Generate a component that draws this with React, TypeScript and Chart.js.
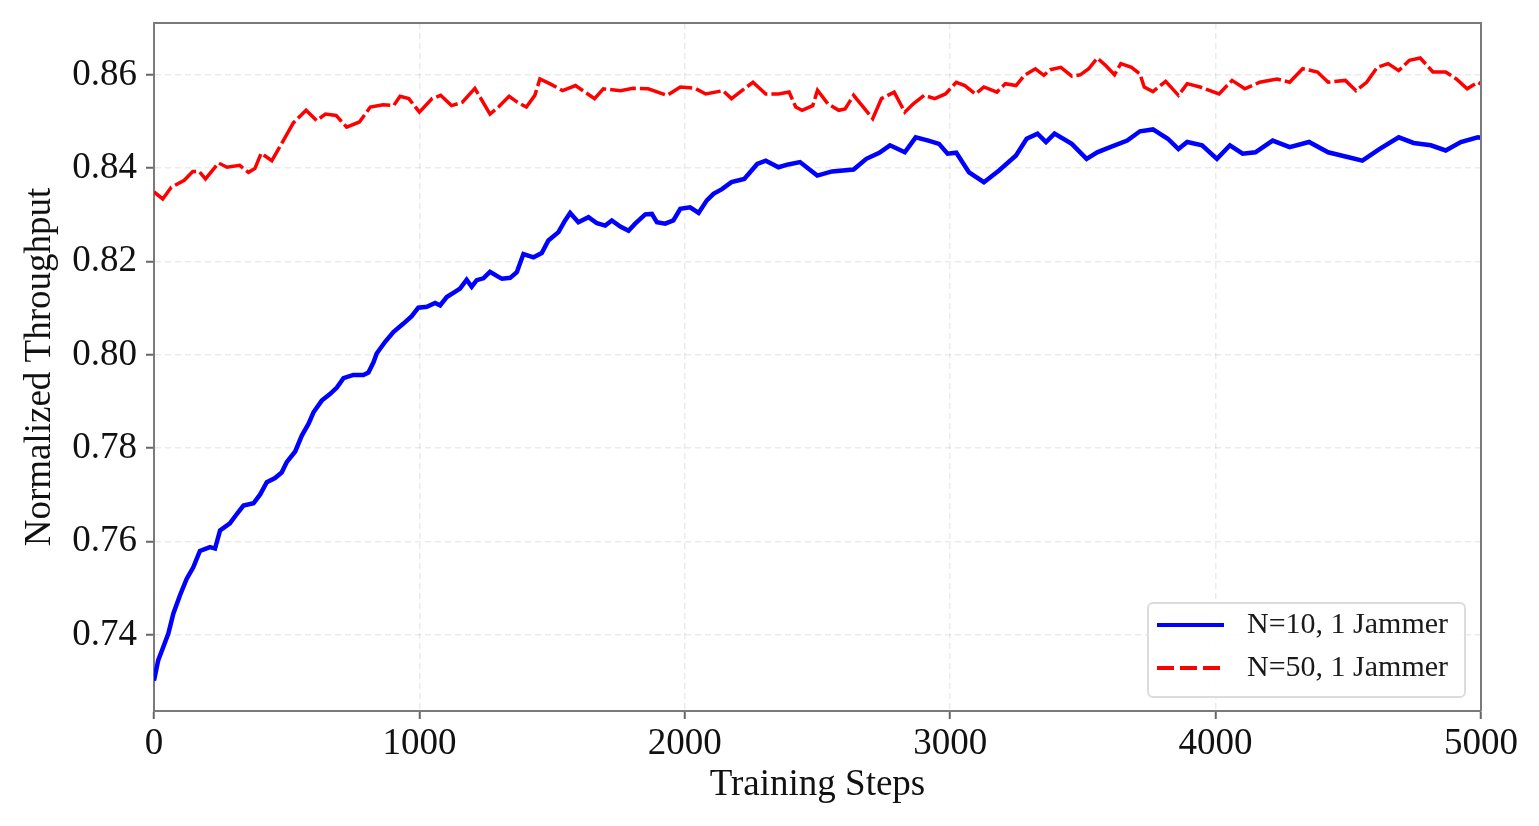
import React, { useEffect, useRef } from 'react';
import { Chart, registerables } from 'chart.js';

Chart.register(...registerables);

// values
const blueSteps = [
  0, 16, 35, 54, 73, 98, 123, 148, 173, 211, 230, 249, 286, 312, 337, 375, 400, 425, 456, 481,
  500, 532, 557, 582, 601, 632, 663, 689, 714, 751, 789, 808, 827, 839, 871, 902, 940, 971, 996, 1028,
  1059, 1078, 1103, 1134, 1153, 1178, 1197, 1216, 1241, 1266, 1298, 1311, 1342, 1367, 1392, 1430, 1461, 1486, 1524, 1549,
  1568, 1599, 1637, 1669, 1700, 1725, 1757, 1788, 1813, 1851, 1876, 1895, 1926, 1957, 1983, 2020, 2052, 2083, 2108, 2140,
  2176, 2224, 2273, 2305, 2353, 2390, 2434, 2499, 2555, 2636, 2684, 2733, 2773, 2829, 2870, 2918, 2958, 2990, 3023, 3071,
  3127, 3184, 3248, 3288, 3329, 3361, 3393, 3458, 3514, 3554, 3603, 3667, 3715, 3764, 3820, 3860, 3893, 3949, 4005, 4054,
  4102, 4150, 4215, 4279, 4352, 4424, 4497, 4553, 4617, 4690, 4746, 4811, 4867, 4924, 4988, 5000,
];
const blueValues = [
  0.7302, 0.7346, 0.7374, 0.7403, 0.7446, 0.7485, 0.7520, 0.7545, 0.7580, 0.7588, 0.7585, 0.7624, 0.7639, 0.7659, 0.7677, 0.7682, 0.7701, 0.7727, 0.7736, 0.7748,
  0.7770, 0.7793, 0.7827, 0.7852, 0.7877, 0.7902, 0.7916, 0.7930, 0.7950, 0.7957, 0.7957, 0.7962, 0.7984, 0.8003, 0.8028, 0.8049, 0.8067, 0.8083, 0.8101, 0.8103,
  0.8111, 0.8106, 0.8124, 0.8135, 0.8142, 0.8161, 0.8146, 0.8160, 0.8164, 0.8178, 0.8167, 0.8163, 0.8165, 0.8177, 0.8216, 0.8209, 0.8218, 0.8245, 0.8263, 0.8288,
  0.8304, 0.8284, 0.8295, 0.8282, 0.8277, 0.8288, 0.8275, 0.8266, 0.8281, 0.8301, 0.8302, 0.8284, 0.8281, 0.8288, 0.8313, 0.8316, 0.8304, 0.8331, 0.8345, 0.8355,
  0.8370, 0.8377, 0.8409, 0.8416, 0.8402, 0.8408, 0.8413, 0.8384, 0.8393, 0.8397, 0.8420, 0.8433, 0.8449, 0.8434, 0.8466, 0.8459, 0.8452, 0.8431, 0.8433, 0.8391,
  0.8370, 0.8395, 0.8427, 0.8463, 0.8474, 0.8456, 0.8474, 0.8452, 0.8420, 0.8434, 0.8445, 0.8459, 0.8479, 0.8483, 0.8463, 0.8441, 0.8456, 0.8449, 0.8420, 0.8449,
  0.8431, 0.8434, 0.8459, 0.8445, 0.8456, 0.8434, 0.8424, 0.8416, 0.8441, 0.8466, 0.8454, 0.8449, 0.8438, 0.8456, 0.8466, 0.8465,
];

const redSteps = [
  0, 33, 65, 114, 146, 170, 194, 243, 275, 323, 356, 380, 404, 444, 484, 525, 573, 613, 646, 686,
  726, 774, 815, 863, 903, 927, 960, 1000, 1048, 1080, 1121, 1161, 1209, 1266, 1298, 1338, 1370, 1403, 1435, 1454,
  1491, 1540, 1588, 1660, 1693, 1757, 1805, 1862, 1934, 1983, 2039, 2079, 2144, 2176, 2224, 2257, 2305, 2353, 2393, 2418,
  2442, 2482, 2500, 2539, 2580, 2604, 2636, 2668, 2708, 2741, 2789, 2829, 2861, 2902, 2942, 2982, 3023, 3055, 3095, 3127,
  3176, 3208, 3248, 3280, 3321, 3353, 3377, 3417, 3458, 3490, 3522, 3554, 3586, 3619, 3643, 3683, 3715, 3731, 3764, 3812,
  3860, 3893, 3941, 4013, 4062, 4110, 4166, 4231, 4279, 4328, 4384, 4424, 4489, 4529, 4569, 4609, 4650, 4690, 4730, 4771,
  4819, 4867, 4907, 4948, 4988, 5000,
];
const redValues = [
  0.8349, 0.8334, 0.8359, 0.8374, 0.8393, 0.8393, 0.8377, 0.8411, 0.8402, 0.8406, 0.8391, 0.8399, 0.8432, 0.8416, 0.8456, 0.8497, 0.8524, 0.8502, 0.8516, 0.8513,
  0.8488, 0.8499, 0.8531, 0.8536, 0.8534, 0.8554, 0.8549, 0.8520, 0.8549, 0.8556, 0.8534, 0.8541, 0.8571, 0.8516, 0.8531, 0.8554, 0.8541, 0.8531, 0.8556, 0.8591,
  0.8581, 0.8566, 0.8577, 0.8549, 0.8570, 0.8566, 0.8571, 0.8570, 0.8556, 0.8574, 0.8571, 0.8559, 0.8566, 0.8549, 0.8570, 0.8584, 0.8559, 0.8559, 0.8563, 0.8531,
  0.8524, 0.8534, 0.8567, 0.8538, 0.8524, 0.8527, 0.8556, 0.8534, 0.8506, 0.8549, 0.8563, 0.8520, 0.8538, 0.8556, 0.8549, 0.8559, 0.8584, 0.8577, 0.8559, 0.8574,
  0.8563, 0.8581, 0.8577, 0.8599, 0.8613, 0.8599, 0.8611, 0.8616, 0.8597, 0.8600, 0.8613, 0.8636, 0.8620, 0.8600, 0.8624, 0.8616, 0.8602, 0.8574, 0.8564, 0.8586,
  0.8556, 0.8581, 0.8574, 0.8559, 0.8588, 0.8570, 0.8584, 0.8591, 0.8584, 0.8613, 0.8606, 0.8584, 0.8588, 0.8566, 0.8584, 0.8616, 0.8624, 0.8609, 0.8631, 0.8636,
  0.8606, 0.8606, 0.8591, 0.8570, 0.8584, 0.8580,
];

const seriesLabels = ['N=10, 1 Jammer', 'N=50, 1 Jammer'];
const xTicks = [0, 1000, 2000, 3000, 4000, 5000];
const yTicks = [0.74, 0.76, 0.78, 0.8, 0.82, 0.84, 0.86];

const SERIF = '"Liberation Serif", "Times New Roman", serif';
const FRAME = '#7a7a7a';

const toPoints = (xs: number[], ys: number[]) => xs.map((x, i) => ({ x, y: ys[i] }));

// matplotlib style box: top and right spines
const framePlugin = {
  id: 'frame',
  afterDraw(chart: Chart) {
    const { ctx, chartArea: a } = chart;
    ctx.save();
    ctx.strokeStyle = FRAME;
    ctx.lineWidth = 2;
    ctx.beginPath();
    ctx.moveTo(a.left, a.top);
    ctx.lineTo(a.right, a.top);
    ctx.lineTo(a.right, a.bottom);
    ctx.stroke();
    ctx.restore();
  },
};

// legend in the lower right corner of the plot area
const innerLegend = {
  id: 'innerLegend',
  afterDraw(chart: Chart) {
    const { ctx, chartArea: a } = chart;
    const w = 317;
    const h = 94;
    const x = a.right - 16 - w;
    const y = a.bottom - 14 - h;
    ctx.save();
    ctx.beginPath();
    ctx.roundRect(x, y, w, h, 5);
    ctx.fillStyle = 'rgba(255,255,255,0.9)';
    ctx.fill();
    ctx.strokeStyle = '#dcdcdc';
    ctx.lineWidth = 2;
    ctx.stroke();
    chart.data.datasets.forEach((ds: any, i) => {
      const cy = y + 22 + i * 43;
      ctx.beginPath();
      ctx.strokeStyle = ds.borderColor;
      ctx.lineWidth = 4;
      ctx.setLineDash(ds.borderDash ? [17, 6] : []);
      ctx.moveTo(x + 9, cy);
      ctx.lineTo(x + 76, cy);
      ctx.stroke();
      ctx.setLineDash([]);
      ctx.fillStyle = '#1a1a1a';
      ctx.font = `30px ${SERIF}`;
      ctx.textBaseline = 'middle';
      ctx.textAlign = 'left';
      ctx.fillText(ds.label, x + 99, cy);
    });
    ctx.restore();
  },
};

const ThroughputChart: React.FC = () => {
  const canvasRef = useRef<HTMLCanvasElement>(null);

  useEffect(() => {
    if (!canvasRef.current) return;

    const gridCommon = {
      color: 'rgba(0,0,0,0.08)',
      lineWidth: 1.5,
      tickLength: 8,
      tickWidth: 2,
      tickColor: '#666',
      tickBorderDash: [],
    };
    const borderCommon = { color: FRAME, width: 2, dash: [6, 4] };

    const chart = new Chart(canvasRef.current, {
      type: 'line',
      data: {
        datasets: [
          {
            label: seriesLabels[0],
            data: toPoints(blueSteps, blueValues),
            borderColor: '#0000ff',
            borderWidth: 4.5,
            pointRadius: 0,
            tension: 0,
          },
          {
            label: seriesLabels[1],
            data: toPoints(redSteps, redValues),
            borderColor: '#ff0000',
            borderWidth: 3.5,
            borderDash: [26, 4],
            pointRadius: 0,
            tension: 0,
          },
        ],
      },
      options: {
        animation: false,
        responsive: true,
        maintainAspectRatio: false,
        layout: { padding: { top: 23, right: 58, left: 0, bottom: 0 } },
        plugins: {
          legend: { display: false },
          tooltip: { enabled: false },
        },
        scales: {
          x: {
            type: 'linear',
            min: 0,
            max: 5000,
            afterBuildTicks: (scale: any) => {
              scale.ticks = xTicks.map((v) => ({ value: v }));
            },
            afterFit: (scale: any) => {
              scale.height = 115;
              scale.paddingLeft = 0;
              scale.paddingRight = 0;
            },
            grid: gridCommon,
            border: borderCommon,
            ticks: {
              color: '#111',
              padding: 3,
              maxRotation: 0,
              font: { family: SERIF, size: 37 },
              callback: (v: any) => String(v),
            },
            title: {
              display: true,
              text: 'Training Steps',
              color: '#111',
              font: { family: SERIF, size: 37 },
              padding: { top: 0, bottom: 19 },
            },
          },
          y: {
            type: 'linear',
            min: 0.7237,
            max: 0.8711,
            afterBuildTicks: (scale: any) => {
              scale.ticks = yTicks.map((v) => ({ value: v }));
            },
            afterFit: (scale: any) => {
              scale.width = 154;
              scale.paddingTop = 0;
              scale.paddingBottom = 0;
            },
            grid: gridCommon,
            border: borderCommon,
            ticks: {
              color: '#111',
              padding: 9,
              font: { family: SERIF, size: 37 },
              callback: (v: any) => Number(v).toFixed(2),
            },
            title: {
              display: true,
              text: 'Normalized Throughput',
              color: '#111',
              font: { family: SERIF, size: 37 },
              padding: { top: 18, bottom: 0 },
            },
          },
        },
      } as any,
      plugins: [framePlugin, innerLegend],
    });

    return () => {
      chart.destroy();
    };
  }, []);

  return (
    <div style={{ position: 'absolute', left: 0, top: 0, width: 1539, height: 826, background: '#fff' }}>
      <canvas ref={canvasRef}></canvas>
    </div>
  );
};

export default function App() {
  return <ThroughputChart />;
}
